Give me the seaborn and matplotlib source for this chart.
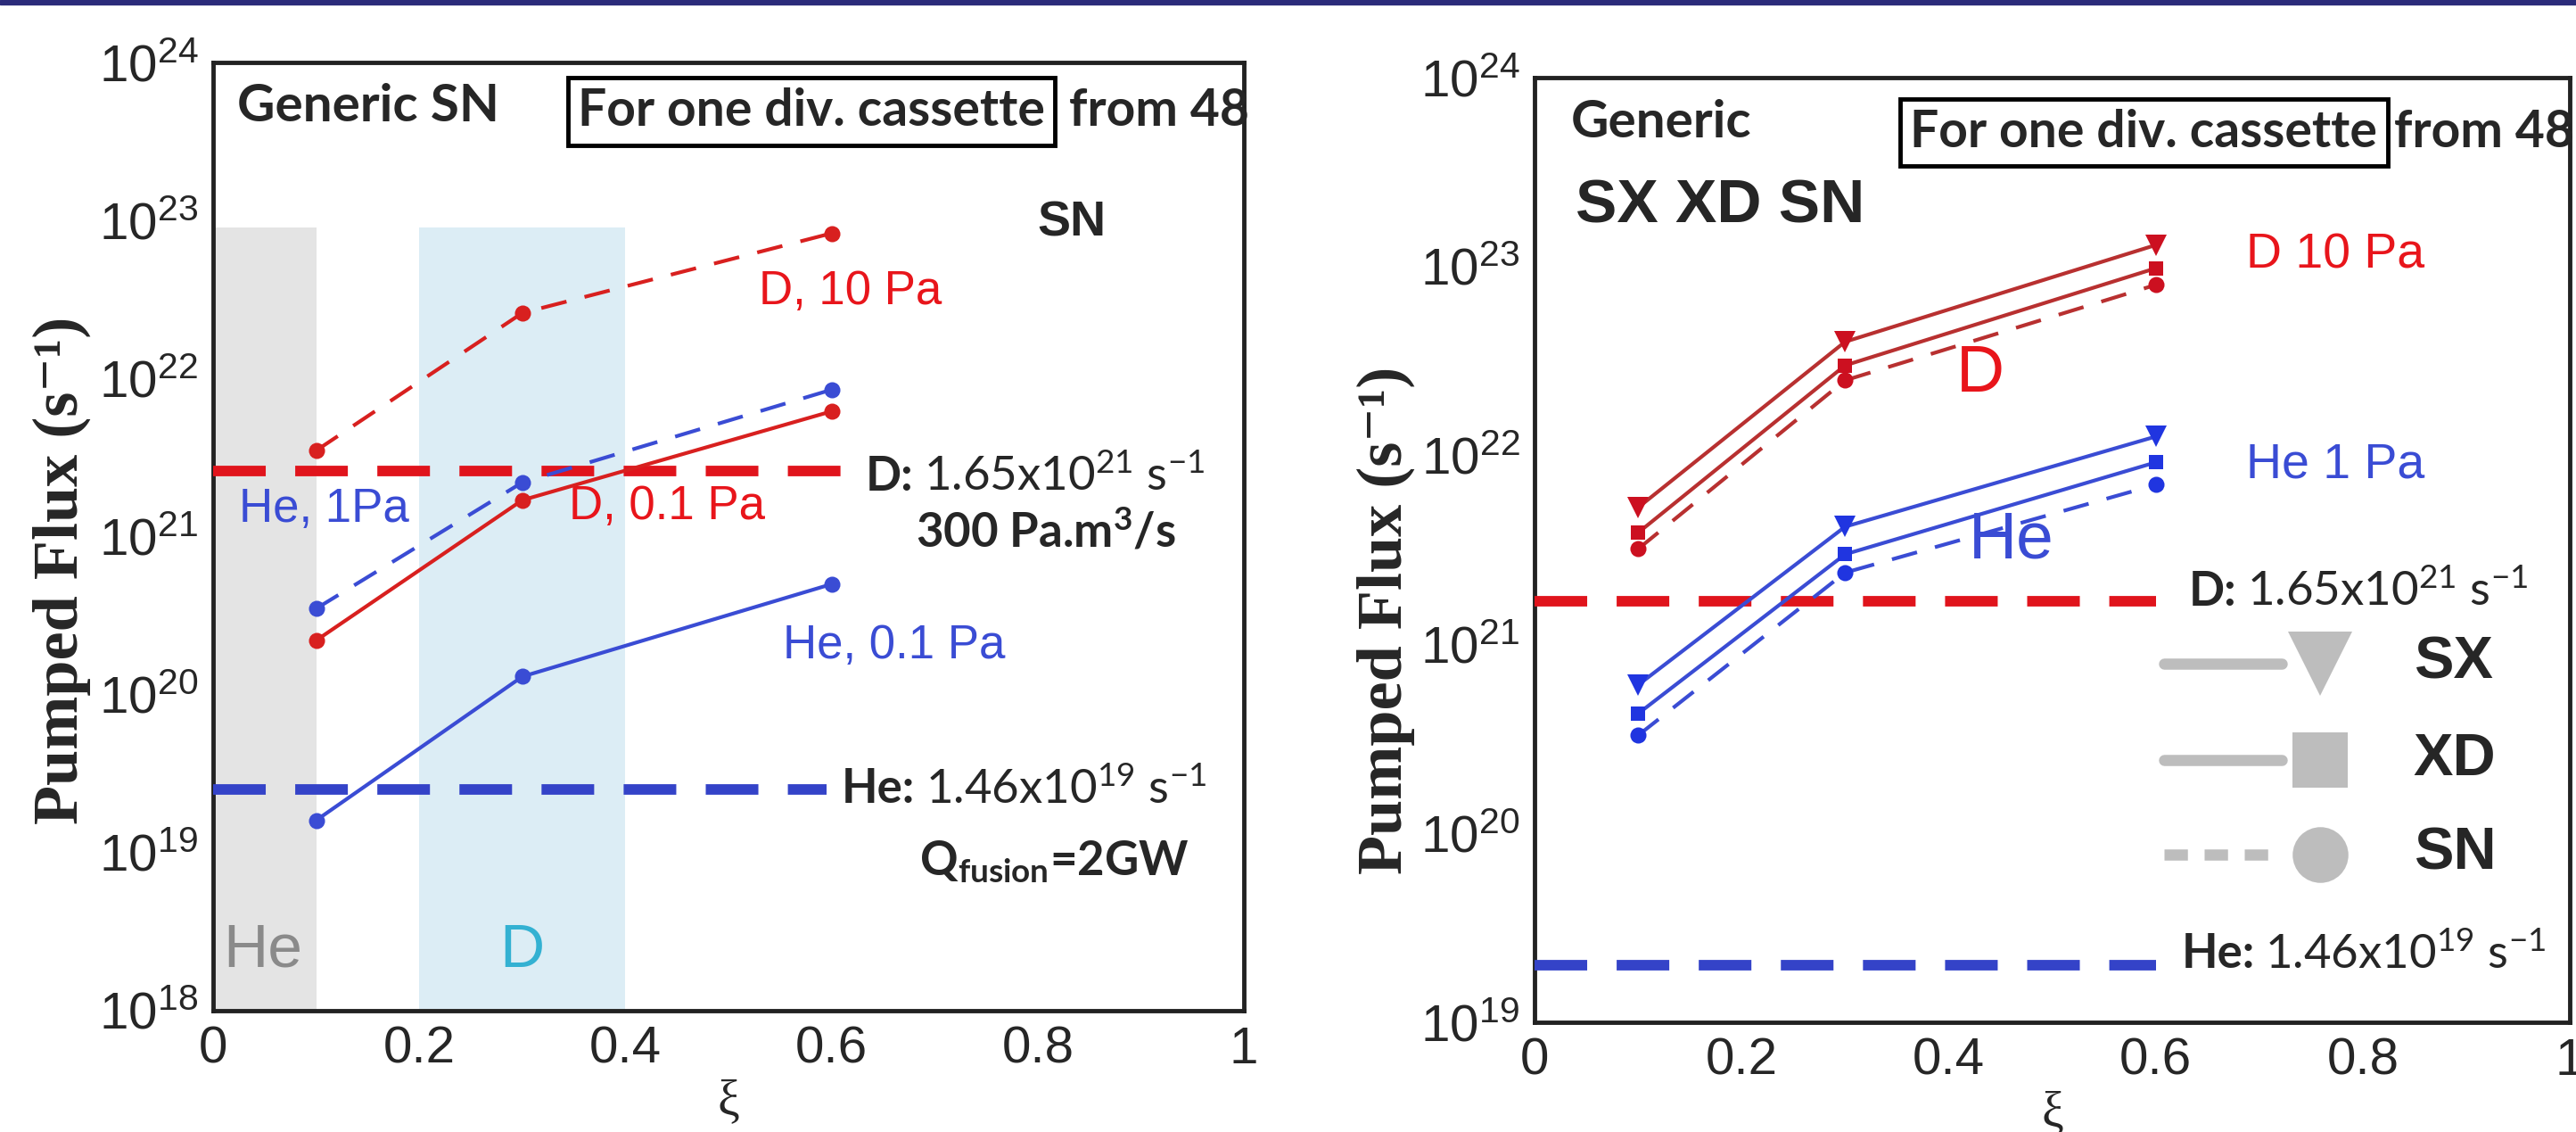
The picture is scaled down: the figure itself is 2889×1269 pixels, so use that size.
import numpy as np
import pandas as pd
import matplotlib
matplotlib.use("Agg")
import matplotlib.pyplot as plt
import seaborn as sns
from matplotlib.ticker import FixedLocator, FuncFormatter, LogLocator, NullFormatter

# Valores
xi = [0.1, 0.3, 0.6]

# Panel izquierdo (SN generico)
sn_d10 = [3.5e21, 2.6e22, 8.3e22]
sn_d01 = [2.2e20, 1.7e21, 6.2e21]
sn_he1 = [3.5e20, 2.2e21, 8.5e21]
sn_he01 = [1.6e19, 1.3e20, 5.0e20]
left_d_limit = 2.6e21
left_he_limit = 2.5e19

# Panel derecho (SX XD SN)
configs = ["SX", "XD", "SN"]
d_flux = {"SX": [5.3e21, 4.0e22, 1.3e23],
          "XD": [3.9e21, 3.0e22, 9.8e22],
          "SN": [3.2e21, 2.5e22, 8.0e22]}
he_flux = {"SX": [6.1e20, 4.2e21, 1.26e22],
           "XD": [4.3e20, 3.0e21, 9.2e21],
           "SN": [3.3e20, 2.4e21, 7.0e21]}
right_d_limit = 1.7e21
right_he_limit = 2.0e19

limit_x = [0.0, 0.6]
he_window = (0.0, 0.1)
d_window = (0.2, 0.4)
window_top = 9e22

sns.set_style("white")
plt.rcParams['font.family'] = ['Liberation Sans Narrow', 'Liberation Sans', 'DejaVu Sans']
plt.rcParams['mathtext.fontset'] = 'custom'
plt.rcParams['mathtext.rm'] = 'Lato'
plt.rcParams['mathtext.bf'] = 'Lato:bold'
plt.rcParams['mathtext.it'] = 'Lato:italic'

RED = '#d8201f'
RED_DARK = '#b83030'
BLUE = '#3a4cd4'
CALIBRI = ['Lato', 'DejaVu Sans']
ARIAL = ['Liberation Sans', 'DejaVu Sans']
SERIF = ['Liberation Serif', 'DejaVu Serif']

fig = plt.figure(figsize=(28.89, 12.69), dpi=100)
fig.patches.append(plt.Rectangle((0, 1 - 5 / 1269), 1, 5 / 1269, transform=fig.transFigure,
                                 color='#2b2b7a', zorder=10))

ax1 = fig.add_axes([0.0827, 0.1072, 0.4002, 0.8376])
ax2 = fig.add_axes([0.5957, 0.0969, 0.4019, 0.8345])


def exp_fmt(v, pos):
    return r'$\mathregular{10^{%d}}$' % int(round(np.log10(v)))


def style_axes(ax, lo, hi, minor=False):
    ax.set_yscale('log')
    ax.set_xlim(0, 1)
    ax.set_ylim(10.0 ** lo, 10.0 ** hi)
    ax.xaxis.set_major_locator(FixedLocator([0, 0.2, 0.4, 0.6, 0.8, 1.0]))
    ax.xaxis.set_major_formatter(FuncFormatter(lambda v, p: '%g' % v))
    ax.yaxis.set_major_locator(FixedLocator([10.0 ** k for k in range(lo, hi + 1)]))
    ax.yaxis.set_major_formatter(FuncFormatter(exp_fmt))
    if minor:
        ax.yaxis.set_minor_locator(LogLocator(base=10, subs=np.arange(2, 10)))
        ax.tick_params(axis='y', which='minor', direction='in', length=7, width=2, color='#999999')
    else:
        ax.yaxis.set_minor_locator(FixedLocator([]))
    ax.yaxis.set_minor_formatter(NullFormatter())
    ax.tick_params(which='major', direction='in', length=14, width=3, labelsize=42, pad=12)
    for s in ax.spines.values():
        s.set_linewidth(3.5)
        s.set_color('#222222')
    ax.set_xlabel('ξ', family=SERIF, fontsize=40, labelpad=4)
    ax.set_ylabel('Pumped Flux (s⁻¹)', family=SERIF, fontsize=52, fontweight='bold')


def draw_line(ax, x, y, color, marker, ms, dashed=False, lw=3, mfc=None):
    sns.lineplot(x=x, y=y, ax=ax, color=color, marker=marker, markersize=ms,
                 markeredgewidth=0, markerfacecolor=mfc or color, linewidth=lw, zorder=4)
    line = ax.lines[-1]
    if dashed:
        line.set_dashes((7, 5))
    return line


def draw_limit(ax, value, color, x=limit_x):
    sns.lineplot(x=x, y=[value, value], ax=ax, color=color, linewidth=8.5, zorder=3)
    ax.lines[-1].set_dashes((5, 2.8))


def limit_label(ax, x, y, name, rest):
    t = ax.text(x, y, name + ':', family=CALIBRI, fontweight='bold', fontsize=38, va='center')
    ax.annotate(rest, xy=(1, 0.5), xycoords=t, xytext=(8, 0), textcoords='offset points',
                family=CALIBRI, fontsize=38, va='center', ha='left')


# ---------------- panel izquierdo ----------------
style_axes(ax1, 18, 24)
ax1.fill_between(he_window, 1e18, window_top, color='#e4e4e4', lw=0, zorder=1)
ax1.fill_between(d_window, 1e18, window_top, color='#dcedf5', lw=0, zorder=1)

draw_limit(ax1, left_d_limit, '#e0141c', x=[0.0, 0.61])
draw_limit(ax1, left_he_limit, '#3443c8', x=[0.0, 0.595])
draw_line(ax1, xi, sn_d10, RED, 'o', 13, dashed=True)
draw_line(ax1, xi, sn_d01, RED, 'o', 13)
draw_line(ax1, xi, sn_he1, BLUE, 'o', 13, dashed=True)
draw_line(ax1, xi, sn_he01, BLUE, 'o', 13)

ax1.text(0.023, 10 ** 23.72, 'Generic SN', family=CALIBRI, fontweight='bold', fontsize=42, va='center')
ax1.text(0.354, 10 ** 23.69, 'For one div. cassette', family=CALIBRI, fontweight='bold', fontsize=41,
         va='center', bbox=dict(boxstyle='square,pad=0.2', fc='white', ec='black', lw=3.5))
ax1.text(0.83, 10 ** 23.69, 'from 48', family=CALIBRI, fontweight='bold', fontsize=41, va='center')
ax1.text(0.80, 10 ** 22.98, 'SN', family=ARIAL, fontweight='bold', fontsize=40, va='center')
ax1.text(0.529, 10 ** 22.55, 'D, 10 Pa', family=ARIAL, color='#e8151b', fontsize=38, va='center')
ax1.text(0.025, 10 ** 21.17, 'He, 1Pa', family=ARIAL, color=BLUE, fontsize=38, va='center')
ax1.text(0.345, 10 ** 21.19, 'D, 0.1 Pa', family=ARIAL, color='#e8151b', fontsize=38, va='center')
ax1.text(0.553, 10 ** 20.31, 'He, 0.1 Pa', family=ARIAL, color=BLUE, fontsize=38, va='center')
limit_label(ax1, 0.633, 10 ** 21.38, 'D', r'1.65x10$^{21}$ s$^{-1}$')
ax1.text(0.682, 10 ** 21.03, r'300 Pa.m$^{\mathbf{3}}$/s', family=CALIBRI, fontweight='bold', fontsize=38, va='center')
limit_label(ax1, 0.61, 10 ** 19.40, 'He', r'1.46x10$^{19}$ s$^{-1}$')
ax1.text(0.685, 10 ** 18.94, r'Q$_{\mathbf{fusion}}$=2GW', family=CALIBRI, fontweight='bold', fontsize=38, va='center')
ax1.text(0.01, 10 ** 18.38, 'He', family=ARIAL, color='#8a8a8a', fontsize=50, va='center')
ax1.text(0.278, 10 ** 18.38, 'D', family=ARIAL, color='#33b1d2', fontsize=50, va='center')
ax1.yaxis.set_label_coords(-0.118, 0.464)

# ---------------- panel derecho ----------------
style_axes(ax2, 19, 24, minor=True)
draw_limit(ax2, right_d_limit, '#e0141c')
draw_limit(ax2, right_he_limit, '#3443c8')

markers = {"SX": ('v', 17), "XD": ('s', 12), "SN": ('o', 13)}
for c in configs:
    m, ms = markers[c]
    draw_line(ax2, xi, d_flux[c], RED_DARK, m, ms, dashed=(c == "SN"), mfc='#cc1020')
    draw_line(ax2, xi, he_flux[c], BLUE, m, ms, dashed=(c == "SN"), mfc='#2035e0')

ax2.text(0.035, 10 ** 23.76, 'Generic', family=CALIBRI, fontweight='bold', fontsize=42, va='center')
ax2.text(0.363, 10 ** 23.71, 'For one div. cassette', family=CALIBRI, fontweight='bold', fontsize=41,
         va='center', bbox=dict(boxstyle='square,pad=0.2', fc='white', ec='black', lw=3.5))
ax2.text(0.83, 10 ** 23.71, 'from 48', family=CALIBRI, fontweight='bold', fontsize=41, va='center')
ax2.text(0.04, 10 ** 23.32, 'SX XD SN', family=ARIAL, fontweight='bold', fontsize=50, va='center')
ax2.text(0.687, 10 ** 23.06, 'D 10 Pa', family=ARIAL, color='#e8151b', fontsize=40, va='center')
ax2.text(0.407, 10 ** 22.43, 'D', family=ARIAL, color='#e8151b', fontsize=54, va='center')
ax2.text(0.687, 10 ** 21.95, 'He 1 Pa', family=ARIAL, color=BLUE, fontsize=40, va='center')
ax2.text(0.419, 10 ** 21.55, 'He', family=ARIAL, color=BLUE, fontsize=54, va='center')
limit_label(ax2, 0.632, 10 ** 21.28, 'D', r'1.65x10$^{21}$ s$^{-1}$')
limit_label(ax2, 0.625, 10 ** 19.36, 'He', r'1.46x10$^{19}$ s$^{-1}$')
ax2.yaxis.set_label_coords(-0.115, 0.426)

# leyenda gris dibujada a mano
legend_y = {"SX": 0.38, "XD": 0.278, "SN": 0.178}
legend_ms = {"SX": 52, "XD": 44, "SN": 45}
for c in configs:
    yy = legend_y[c]
    ln, = ax2.plot([0.608, 0.722], [yy, yy], transform=ax2.transAxes, color='#bdbdbd', lw=9, zorder=5)
    if c == "SN":
        ln.set_dashes((2.1, 1.5))
    ax2.plot([0.759], [yy], transform=ax2.transAxes, marker=markers[c][0], ms=legend_ms[c],
             color='#bdbdbd', mew=0, zorder=5)
    ax2.text(0.849, yy, c, transform=ax2.transAxes, family=ARIAL, fontweight='bold', fontsize=48, va='center')

plt.savefig("out.png", dpi=100)
